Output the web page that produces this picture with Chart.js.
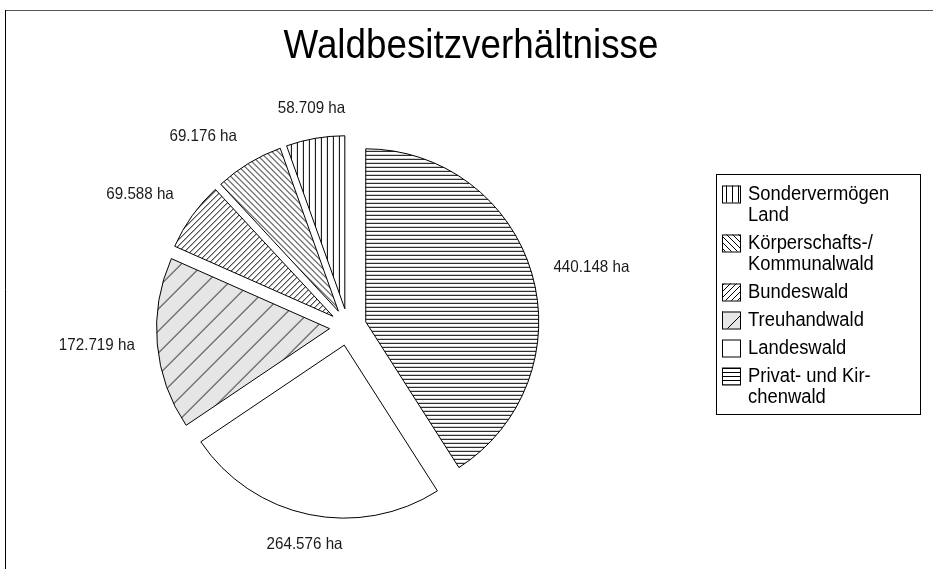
<!DOCTYPE html>
<html>
<head>
<meta charset="utf-8">
<script src="https://cdn.jsdelivr.net/npm/chart.js@4"></script>
<style>
  html, body { margin: 0; padding: 0; background: #fff; }
  canvas { display: block; }
</style>
</head>
<body>
<canvas id="waldChart" width="933" height="569"></canvas>
<script>
/* global Chart:false */

// data, drawn clockwise from 12 o'clock
var categories = [
  "Privat- und Kirchenwald",
  "Landeswald",
  "Treuhandwald",
  "Bundeswald",
  "Körperschafts-/Kommunalwald",
  "Sondervermögen Land",
];
var areaHa = [440148, 264576, 172719, 69588, 69176, 58709];
var legendLines = [
  ["Privat- und Kir-", "chenwald"],
  ["Landeswald"],
  ["Treuhandwald"],
  ["Bundeswald"],
  ["Körperschafts-/", "Kommunalwald"],
  ["Sondervermögen", "Land"],
];
var chartTitle = "Waldbesitzverhältnisse";

// hatch style per slice: [kind, tile size, background]
var hatchStyles = [
  ["h", 4, "#ffffff"],
  ["none", 4, "#ffffff"],
  ["fd", 22, "#e6e6e6"],
  ["fd", 6, "#ffffff"],
  ["bd", 6, "#ffffff"],
  ["v", 6, "#ffffff"],
];

var SQUEEZE = 0.92; // the source text is a bit narrow

function formatHa(v) {
  var th = Math.floor(v / 1000);
  var rest = String(v % 1000).padStart(3, "0");
  return th + "." + rest + " ha";
}

function makePattern(ctx, kind, size, bg) {
  var c = document.createElement("canvas");
  c.width = size;
  c.height = size;
  var p = c.getContext("2d");
  p.fillStyle = bg;
  p.fillRect(0, 0, size, size);
  p.strokeStyle = "#000";
  p.lineWidth = 1;
  p.beginPath();
  if (kind === "h") {
    p.moveTo(0, 0.5);
    p.lineTo(size, 0.5);
  } else if (kind === "v") {
    p.moveTo(0.5, 0);
    p.lineTo(0.5, size);
  } else if (kind === "fd") {
    p.moveTo(0, size);
    p.lineTo(size, 0);
    p.moveTo(-1, 1);
    p.lineTo(1, -1);
    p.moveTo(size - 1, size + 1);
    p.lineTo(size + 1, size - 1);
  } else if (kind === "bd") {
    p.moveTo(0, 0);
    p.lineTo(size, size);
    p.moveTo(size - 1, -1);
    p.lineTo(size + 1, 1);
    p.moveTo(-1, size - 1);
    p.lineTo(1, size + 1);
  }
  p.stroke();
  return ctx.createPattern(c, "repeat");
}

function squeezedText(ctx, text, x, y) {
  var w = ctx.measureText(text).width * SQUEEZE;
  ctx.fillText(text, x, y, w);
  return w;
}

// which side of the label box sits on the anchor point
function side(u) {
  var a = Math.min(Math.max((Math.abs(u) - 0.3) / 0.2, 0), 1);
  return u < 0 ? -a : a;
}

// move each slice out along its middle angle (pure shift, like the source)
var explodePlugin = {
  id: "explode",
  beforeDatasetDraw: function (chart, args, opts) {
    var ctx = chart.ctx;
    args.meta.data.forEach(function (arc) {
      var mid = (arc.startAngle + arc.endAngle) / 2;
      ctx.save();
      ctx.translate(Math.cos(mid) * opts.distance, Math.sin(mid) * opts.distance);
      arc.draw(ctx, chart.chartArea);
      ctx.restore();
    });
    return false;
  },
};

// value labels outside each slice
var outsideLabels = {
  id: "outsideLabels",
  afterDatasetsDraw: function (chart, args, opts) {
    var ctx = chart.ctx;
    var meta = chart.getDatasetMeta(0);
    ctx.save();
    ctx.font = opts.font;
    ctx.fillStyle = "#1a1a1a";
    ctx.textAlign = "center";
    ctx.textBaseline = "middle";
    meta.data.forEach(function (arc, i) {
      var text = formatHa(areaHa[i]);
      var w = ctx.measureText(text).width * SQUEEZE;
      var mid = (arc.startAngle + arc.endAngle) / 2;
      var dx = Math.cos(mid);
      var dy = Math.sin(mid);
      var d = arc.outerRadius + opts.gap;
      var x = arc.x + dx * d + side(dx) * w / 2;
      var y = arc.y + dy * d + side(dy) * opts.halfHeight;
      ctx.fillText(text, x, y, w);
    });
    ctx.restore();
  },
};

// title, frame and legend box
var decorations = {
  id: "decorations",
  afterDraw: function (chart) {
    var ctx = chart.ctx;
    ctx.save();
    // frame (only top and left are inside the picture)
    ctx.strokeStyle = "#555";
    ctx.lineWidth = 1;
    ctx.beginPath();
    ctx.moveTo(5, 10.5);
    ctx.lineTo(933, 10.5);
    ctx.stroke();
    ctx.strokeStyle = "#000";
    ctx.beginPath();
    ctx.moveTo(5.5, 10);
    ctx.lineTo(5.5, 569);
    ctx.stroke();

    ctx.fillStyle = "#000";
    ctx.font = "40px 'Liberation Sans', Arial, sans-serif";
    ctx.textAlign = "center";
    ctx.textBaseline = "middle";
    squeezedText(ctx, chartTitle, 471, 47);

    // legend
    ctx.strokeStyle = "#000";
    ctx.strokeRect(716.5, 174.5, 204, 240);
    ctx.font = "20px 'Liberation Sans', Arial, sans-serif";
    ctx.textAlign = "left";
    ctx.fillStyle = "#000";
    var ds = chart.data.datasets[0];
    var y = 194;
    for (var i = categories.length - 1; i >= 0; i--) {
      ctx.fillStyle = ds.backgroundColor[i];
      ctx.fillRect(722, y - 8.5, 18, 17);
      ctx.strokeRect(722.5, y - 8, 18, 17);
      ctx.fillStyle = "#000";
      legendLines[i].forEach(function (line, k) {
        squeezedText(ctx, line, 748, y + k * 21);
      });
      y += (legendLines[i].length - 1) * 21 + 28;
    }
    ctx.restore();
  },
};

function createChart() {
  var el = document.getElementById("waldChart");
  var ctx = el.getContext("2d");
  var fills = hatchStyles.map(function (s) {
    if (s[0] === "none") return s[2];
    return makePattern(ctx, s[0], s[1], s[2]);
  });

  return new Chart(ctx, {
    type: "pie",
    data: {
      labels: categories,
      datasets: [
        {
          data: areaHa,
          backgroundColor: fills,
          borderColor: "#000",
          borderWidth: 1,
          radius: 173,
        },
      ],
    },
    options: {
      responsive: false,
      animation: false,
      devicePixelRatio: 1,
      layout: {
        padding: { left: 152, right: 389, top: 150, bottom: 65 },
      },
      plugins: {
        legend: { display: false },
        title: { display: false },
        tooltip: { enabled: false },
        explode: { distance: 18.5 },
        outsideLabels: {
          font: "16.5px 'Liberation Sans', Arial, sans-serif",
          gap: 41,
          halfHeight: 8,
        },
      },
    },
    plugins: [explodePlugin, outsideLabels, decorations],
  });
}

createChart();
</script>
</body>
</html>
